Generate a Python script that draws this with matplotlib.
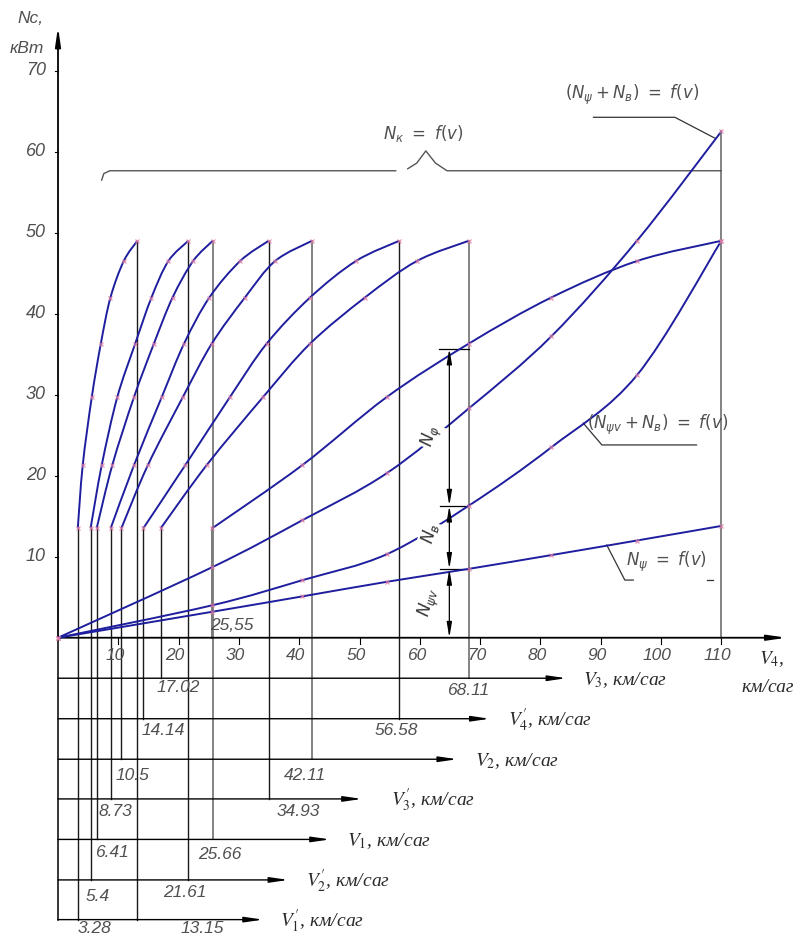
import numpy as np
import matplotlib.pyplot as plt
from matplotlib.path import Path
from matplotlib.patches import PathPatch

# engine power at the computed points of each gear curve, kW
nk_power = [13.5, 21.3, 29.7, 36.3, 42.0, 46.5, 49.0]

# vehicle speed at those points, km/h, per gear
v1p = [3.28, 4.1, 5.6, 7.1, 8.7, 10.9, 13.15]
v2p = [5.4, 7.25, 9.83, 12.8, 15.5, 18.3, 21.61]
v1 = [6.41, 9.0, 12.6, 15.9, 19.0, 22.4, 25.66]
v3p = [8.73, 12.6, 17.2, 20.9, 25.1, 30.2, 34.93]
v2 = [10.5, 14.9, 20.7, 25.5, 31.0, 36.0, 42.11]
v4p = [14.14, 21.1, 28.5, 34.6, 41.8, 49.4, 56.58]
v3 = [17.02, 24.65, 34.0, 41.8, 50.9, 59.5, 68.11]
v4 = [25.55, 40.5, 54.5, 68.11, 81.8, 96.0, 110.0]

# resistance power curves, kW
res_speed = [0, 25.55, 40.5, 54.5, 68.11, 81.8, 96.0, 110.0]
n_psi = [0, 3.2, 5.1, 6.9, 8.5, 10.2, 12.0, 13.8]
n_psiv_b = [0, 4.0, 7.1, 10.3, 16.3, 23.5, 32.4, 49.0]
n_psi_b = [0, 8.7, 14.5, 20.3, 28.3, 37.2, 49.0, 62.5]

# speed scales drawn under the main axis
scale_names = [r"V^{\prime}_{1}", r"V^{\prime}_{2}", r"V_{1}", r"V^{\prime}_{3}",
               r"V_{2}", r"V^{\prime}_{4}", r"V_{3}"]
scale_start = ["3.28", "5.4", "6.41", "8.73", "10.5", "14.14", "17.02"]
scale_end = ["13.15", "21.61", "25.66", "34.93", "42.11", "56.58", "68.11"]

x_ticks = [10, 20, 30, 40, 50, 60, 70, 80, 90, 100, 110]
y_ticks = [10, 20, 30, 40, 50, 60, 70]

BLUE = '#1e1e9e'
MARK = '#e27fa8'
GOST = dict(family=['Liberation Sans Narrow', 'Liberation Sans', 'DejaVu Sans'],
            style='italic', color='#505050')
SERIF = dict(family=['Liberation Serif', 'DejaVu Serif'], style='italic',
             color='#2a2a2a', math_fontfamily='stix')


def smooth(xs, ys):
    # Catmull-Rom through the points, as cubic Bezier segments
    p = np.column_stack([xs, ys]).astype(float)
    n = len(p)
    verts, codes = [p[0]], [Path.MOVETO]
    for i in range(n - 1):
        p0 = p[i - 1] if i > 0 else p[i]
        p3 = p[i + 2] if i + 2 < n else p[i + 1]
        verts += [p[i] + (p[i + 1] - p0) / 6, p[i + 1] - (p3 - p[i]) / 6, p[i + 1]]
        codes += [Path.CURVE4] * 3
    return Path(verts, codes)


def curve(ax, xs, ys, marks=True):
    ax.add_patch(PathPatch(smooth(xs, ys), fill=False, ec=BLUE, lw=1.4, zorder=3))
    if marks:
        ax.plot(xs, ys, ls='none', marker='x', ms=3.5, mew=0.9, color=MARK,
                alpha=0.8, zorder=4)


def arrow(ax, start, tip, lw=1.0):
    ax.annotate('', xy=tip, xytext=start,
                arrowprops=dict(arrowstyle='-|>,head_length=1.1,head_width=0.16',
                                color='k', lw=lw, shrinkA=0, shrinkB=0),
                annotation_clip=False)


fig = plt.figure(figsize=(8.03, 9.38), dpi=100)
ax = fig.add_axes([0, 0, 1, 1])
ax.set_xlim(-9.62, 123.55)
ax.set_ylim(-37.07, 78.73)
ax.axis('off')

# main axes
ax.plot([0, 0], [-34.8, 0], color='k', lw=1.1)
arrow(ax, (0, 0), (0, 75.4), lw=1.3)
arrow(ax, (0, 0), (120.8, 0), lw=1.3)
for t in y_ticks:
    ax.plot([-0.5, 0], [t, t], color='k', lw=0.8)
    ax.text(-2.0, t, str(t), ha='right', va='center', size=13, **GOST)
for t in x_ticks:
    ax.plot([t, t], [0, -0.8], color='k', lw=0.8)
    ax.text(t - 0.6, -2.2, str(t), ha='center', va='center', size=12.5, **GOST)
ax.text(-4.6, 76.4, 'Nc,', ha='center', va='center', size=12.5, **GOST)
ax.text(-5.1, 72.8, 'кВт', ha='center', va='center', size=12.5, **GOST)
ax.text(116.3, -2.6, r'$V_{4}$,', ha='left', va='center', size=14, **SERIF)
ax.text(113.4, -6.2, 'км/саг', ha='left', va='center', size=14, **SERIF)

# lower speed scales
gears = [v1p, v2p, v1, v3p, v2, v4p, v3]
levels = [-34.8, -29.9, -24.9, -19.9, -15.0, -10.0, -5.0]
ends = [34.0, 38.2, 45.1, 50.4, 66.2, 71.6, 84.3]
name_x = [36.8, 41.2, 47.9, 55.3, 69.2, 74.7, 87.1]
start_lbl = [(6.1, -35.9), (6.6, -31.9), (9.0, -26.5), (9.45, -21.5),
             (12.3, -17.0), (17.4, -11.4), (19.9, -6.2)]
end_lbl = [(24.0, -35.9), (21.1, -31.5), (26.9, -26.8), (39.8, -21.5),
           (41.0, -17.0), (56.05, -11.4), (68.0, -6.5)]
gray_lines = {25.66, 42.11, 68.11}
for i, sp in enumerate(gears):
    lv = levels[i]
    arrow(ax, (0, lv), (ends[i], lv), lw=1.0)
    ax.text(name_x[i], lv - 0.2, '$' + scale_names[i] + '$, км/саг',
            ha='left', va='center', size=14, **SERIF)
    for v, top in ((sp[0], nk_power[0]), (sp[-1], nk_power[-1])):
        c = '#7a7a7a' if v in gray_lines else '#1a1a1a'
        ax.plot([v, v], [lv, top], color=c, lw=1.0 if c == '#1a1a1a' else 1.3,
                zorder=2)
    ax.text(*start_lbl[i], scale_start[i], ha='center', va='center', size=12.5,
            **GOST)
    ax.text(*end_lbl[i], scale_end[i], ha='center', va='center', size=12.5,
            **GOST)

# top gear verticals
ax.plot([v4[0], v4[0]], [0, nk_power[0]], color='#7a7a7a', lw=1.4, zorder=2)
ax.plot([v4[-1], v4[-1]], [0, n_psi_b[-1]], color='#7a7a7a', lw=1.3, zorder=2)
ax.text(28.9, 1.5, '25,55', ha='center', va='center', size=12.5, **GOST)

# traction power curves
for sp in gears + [v4]:
    curve(ax, sp, nk_power)

# resistance power curves
curve(ax, res_speed, n_psi)
curve(ax, res_speed, n_psiv_b)
curve(ax, res_speed, n_psi_b)

# brace over the traction curves
ax.plot([7.24, 7.6, 8.6, 56.0], [56.5, 57.3, 57.65, 57.65], color='#555555', lw=1.0)
ax.plot([58.0, 59.5, 61.0, 62.6, 64.5, 110.0],
        [57.9, 58.6, 60.1, 58.6, 57.65, 57.65], color='#555555', lw=1.0)
ax.text(60.5, 62.3, r'$N_к\ =\ f(v)$', ha='center', va='center', size=12,
        math_fontfamily='dejavusans', color='#505050')

# curve captions with leaders
ax.text(95.2, 67.0, r'$(N_\psi + N_в)\ =\ f(v)$', ha='center', va='center',
        size=12, math_fontfamily='dejavusans', color='#505050')
ax.plot([88.8, 102.3, 109.0], [64.25, 64.25, 61.65], color='#333333', lw=0.9)
ax.text(99.5, 26.25, r'$(N_{\psi v} + N_в)\ =\ f(v)$', ha='center', va='center',
        size=12, math_fontfamily='dejavusans', color='#505050')
ax.plot([87.1, 90.2, 105.9], [26.5, 23.8, 23.8], color='#333333', lw=0.9)
ax.text(100.9, 9.4, r'$N_\psi\ =\ f(v)$', ha='center', va='center', size=12,
        math_fontfamily='dejavusans', color='#505050')
ax.plot([91.0, 94.0, 95.4], [11.45, 7.12, 7.12], color='#333333', lw=0.9)
ax.plot([107.6, 108.7], [7.12, 7.12], color='#333333', lw=0.9)

# dimension chain of the power balance at the third gear
xd = 64.9
for y0, x0, x1 in ((35.7, 63.2, 68.1), (16.3, 63.35, 67.5), (8.5, 63.35, 68.2)):
    ax.plot([x0, x1], [y0, y0], color='k', lw=0.9)
for lo, hi in ((0, 8.5), (8.5, 16.3), (16.3, 35.7)):
    ax.annotate('', xy=(xd, hi), xytext=(xd, lo),
                arrowprops=dict(arrowstyle='<|-|>,head_length=0.9,head_width=0.15',
                                color='k', lw=0.9, shrinkA=0, shrinkB=0))
box = dict(boxstyle='square,pad=0.05', fc='white', ec='none')
for (x, y), s in (((62.0, 24.8), r'$N_\varphi$'), ((61.7, 12.9), r'$N_в$'),
                  ((61.7, 4.3), r'$N_{\psi v}$')):
    ax.text(x, y, s, ha='center', va='center', size=12, rotation=75,
            math_fontfamily='dejavusans', color='#333333', bbox=box, zorder=5)

fig.savefig('out.png', dpi=100)
